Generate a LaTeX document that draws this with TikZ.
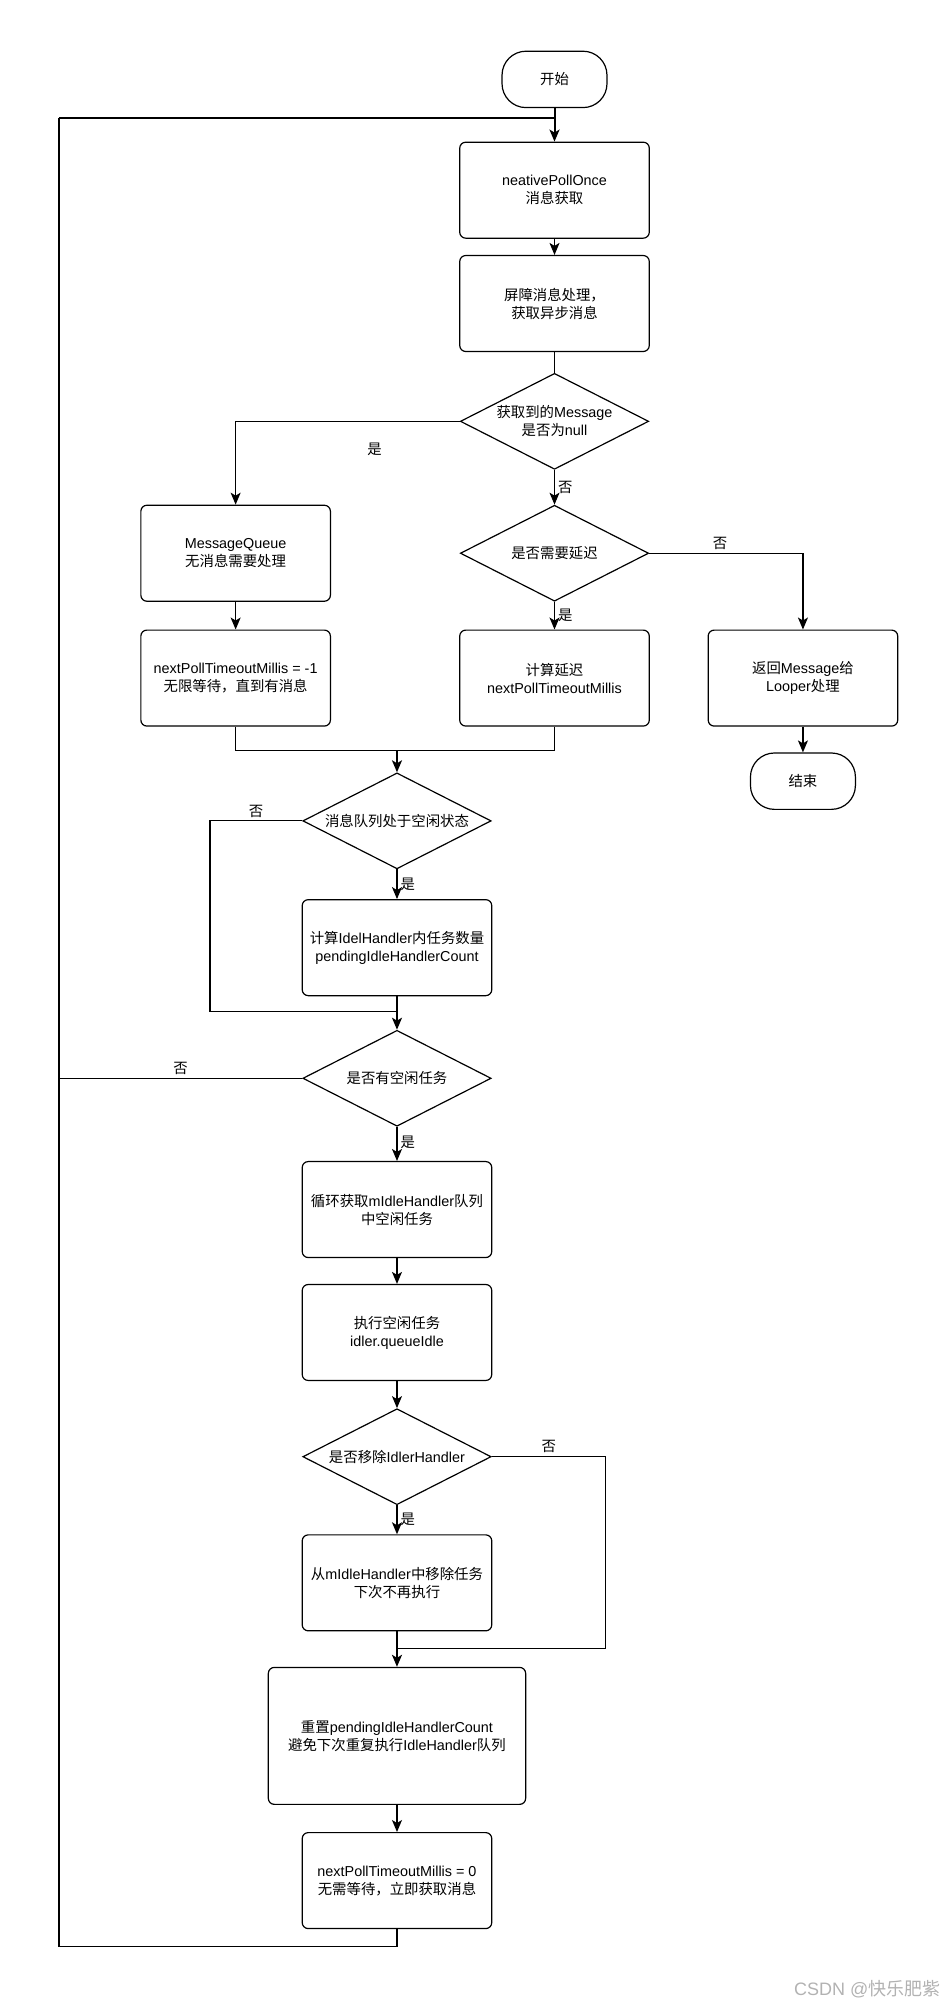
\documentclass[tikz,border=0pt]{standalone}
\usepackage{fontspec}
\setmainfont{Liberation Sans}
\newfontfamily\cjk{Noto Sans CJK SC}
\newcommand{\zh}[1]{{\cjk #1}}
\usepackage{tikz}
\usetikzlibrary{shapes.geometric,arrows.meta}
\tikzset{every node/.style={font=\fontsize{7.2}{9}\selectfont},
  box/.style={draw,rounded corners=3pt,align=center,minimum width=94.8pt,minimum height=48pt,inner sep=1pt},
  term/.style={draw,rounded corners=12pt,align=center,minimum width=52.5pt,minimum height=28.2pt},
  decision/.style={draw,diamond,aspect=2,align=center,minimum width=94.2pt,minimum height=48pt,inner sep=0pt},
  lbl/.style={inner sep=1.5pt},
  merge/.style={line width=1pt}}

\begin{document}
\begin{tikzpicture}[x=0.6405pt,y=-0.6405pt,line width=0.6pt,>={Stealth[length=6pt,width=5pt,inset=1.5pt]}]
\useasboundingbox (0,0) rectangle (740,1568);
\node[term] (start) at (433,62) {\zh{开始}};
\node[box] (poll) at (433,148.5) {neativePollOnce\\\zh{消息获取}};
\node[box] (barrier) at (433,237) {\zh{屏障消息处理，}\\\zh{获取异步消息}};
\node[decision] (isnull) at (433,329) {\zh{获取到的}Message\\\zh{是否为}null};
\node[decision] (delay) at (433,432) {\zh{是否需要延迟}};
\node[box] (empty) at (184,432) {MessageQueue\\\zh{无消息需要处理}};
\node[box] (wait) at (184,529.5) {nextPollTimeoutMillis = -1\\\zh{无限等待，直到有消息}};
\node[box] (calc) at (433,529.5) {\zh{计算延迟}\\nextPollTimeoutMillis};
\node[box] (ret) at (627,529.5) {\zh{返回}Message\zh{给}\\Looper\zh{处理}};
\node[term] (end) at (627,610) {\zh{结束}};
\node[decision] (idle) at (310,641) {\zh{消息队列处于空闲状态}};
\node[box] (count) at (310,740) {\zh{计算}IdelHandler\zh{内任务数量}\\pendingIdleHandlerCount};
\node[decision] (has) at (310,842) {\zh{是否有空闲任务}};
\node[box] (fetch) at (310,944.5) {\zh{循环获取}mIdleHandler\zh{队列}\\\zh{中空闲任务}};
\node[box] (run) at (310,1040.5) {\zh{执行空闲任务}\\idler.queueIdle};
\node[decision] (remove) at (310,1137.5) {\zh{是否移除}IdlerHandler};
\node[box] (del) at (310,1236) {\zh{从}mIdleHandler\zh{中移除任务}\\\zh{下次不再执行}};
\node[box,minimum width=128.7pt,minimum height=68.5pt] (reset) at (310,1355.5) {\zh{重置}pendingIdleHandlerCount\\\zh{避免下次重复执行}IdleHandler\zh{队列}};
\node[box] (zero) at (310,1468.5) {nextPollTimeoutMillis = 0\\\zh{无需等待，立即获取消息}};
\node[anchor=east,text=gray!60,font=\fontsize{9}{9}\selectfont] (mark) at (740,1553) {CSDN @\zh{快乐肥紫}};
\coordinate (top) at (433,92);
\coordinate (loop) at (46,1520);
\coordinate (m1) at (310,586);
\coordinate (m3) at (310,790);
\coordinate (m5) at (310,1287);
\draw[->,merge] (start) -- (poll);
\draw (barrier) -- (isnull);
\path[->] (poll) edge (barrier)
      (isnull) edge node[lbl,anchor=west] {\zh{否}} (delay)
      (delay) edge node[lbl,anchor=west] {\zh{是}} (calc)
      (empty) edge (wait)
      (ret) edge (end)
      (idle) edge node[lbl,anchor=west] {\zh{是}} (count)
      (has) edge node[lbl,anchor=west,pos=0.45] {\zh{是}} (fetch)
      (fetch) edge (run)
      (run) edge (remove)
      (remove) edge node[lbl,anchor=west] {\zh{是}} (del)
      (reset) edge (zero);
\draw[->] (isnull.west) -| node[lbl,pos=0.19,below=9pt] {\zh{是}} (empty.north);
\draw[->] (delay.east) -| node[lbl,pos=0.23,above] {\zh{否}} (ret.north);
\draw (wait.south) |- (m1);
\draw (calc.south) |- (m1);
\draw[->,merge] (m1) -- (idle.north);
\draw (idle.west) -- node[lbl,above] {\zh{否}} ++(-72,0) |- (m3);
\draw (count) -- (m3);
\draw[->,merge] (m3) -- (has.north);
\draw (has.west) -- node[lbl,above] {\zh{否}} (has.west -| loop);
\draw (remove.east) -- node[lbl,above] {\zh{否}} ++(89,0) |- (m5);
\draw (del) -- (m5);
\draw[->,merge] (m5) -- (reset.north);
\draw (zero.south) |- (loop) -- (loop |- top);
\draw[merge] (loop |- top) -- (top);
\end{tikzpicture}
\end{document}
